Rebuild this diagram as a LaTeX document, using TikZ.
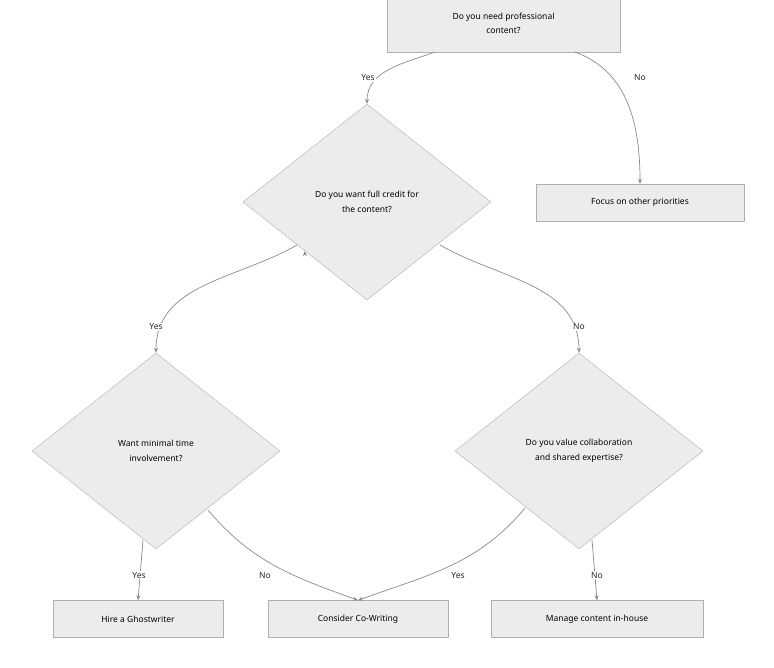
\documentclass[tikz,border=0pt]{standalone}
\usepackage{fontspec}
\setmainfont{Noto Sans}
\usetikzlibrary{shapes.geometric,arrows.meta}
\definecolor{fillg}{HTML}{ECECEC}
\definecolor{edgeg}{HTML}{B0B0B0}
\definecolor{lineg}{HTML}{8A8A8A}
\begin{document}
\begin{tikzpicture}[x=1pt,y=-1pt,
  box/.style={draw=edgeg,fill=fillg,minimum height=37pt,align=center,font=\fontsize{8.5}{14}\selectfont,inner sep=0pt},
  dia/.style={draw=edgeg,fill=fillg,diamond,minimum width=248pt,minimum height=196pt,align=center,font=\fontsize{8.5}{15}\selectfont,inner sep=0pt},
  arr/.style={draw=lineg,line width=0.7pt,-{Stealth[length=5pt,width=4pt]}},
  lab/.style={fill=white,inner sep=1pt,font=\fontsize{8.5}{10}\selectfont,text=black!85}]
\useasboundingbox (0,0) rectangle (774,667);
\node[box,minimum width=233pt,minimum height=57pt] (q1) at (503.5,23.5) {Do you need professional\\content?};
\node[dia] (d1) at (367,202) {Do you want full credit for\\the content?};
\node[box,minimum width=208pt] (f) at (640,202.5) {Focus on other priorities};
\node[dia] (d2) at (156,451) {Want minimal time\\involvement?};
\node[dia] (d3) at (579,451) {Do you value collaboration\\and shared expertise?};
\node[box,minimum width=170pt] (h) at (138,619) {Hire a Ghostwriter};
\node[box,minimum width=180pt] (c) at (358,619) {Consider Co-Writing};
\node[box,minimum width=212pt] (m) at (597,619) {Manage content in-house};
\coordinate (q1a) at (435,52);
\coordinate (q1b) at (575,52);
\draw[arr] (q1a) to[out=200,in=90] (d1.north);
\draw[arr] (q1b) to[out=-20,in=90] (f.north);
\draw[arr] (d1.south west) ++(0,0) coordinate (x1);
\coordinate (d1l) at (297,245);
\coordinate (d1r) at (440,245);
\draw[arr] (d1l) to[out=210,in=90] (d2.north);
\draw[arr] (d1r) to[out=-30,in=90] (d3.north);
\coordinate (d2a) at (143,540);
\coordinate (d2b) at (208,510);
\coordinate (d3a) at (525,508);
\coordinate (d3b) at (592,540);
\draw[arr] (d2a) -- (h.north);
\draw[arr] (d2b) to[out=-50,in=160] (c.north);
\draw[arr] (d3a) to[out=-130,in=20] (c.north);
\draw[arr] (d3b) -- (m.north);
\node[lab] (l1) at (368,78) {Yes};
\node[lab] (l2) at (640,78) {No};
\node[lab] (l3) at (156,327) {Yes};
\node[lab] (l4) at (579,327) {No};
\node[lab] (l5) at (139,575) {Yes};
\node[lab] (l6) at (265,575) {No};
\node[lab] (l7) at (458,575) {Yes};
\node[lab] (l8) at (597,575) {No};
\end{tikzpicture}
\end{document}
